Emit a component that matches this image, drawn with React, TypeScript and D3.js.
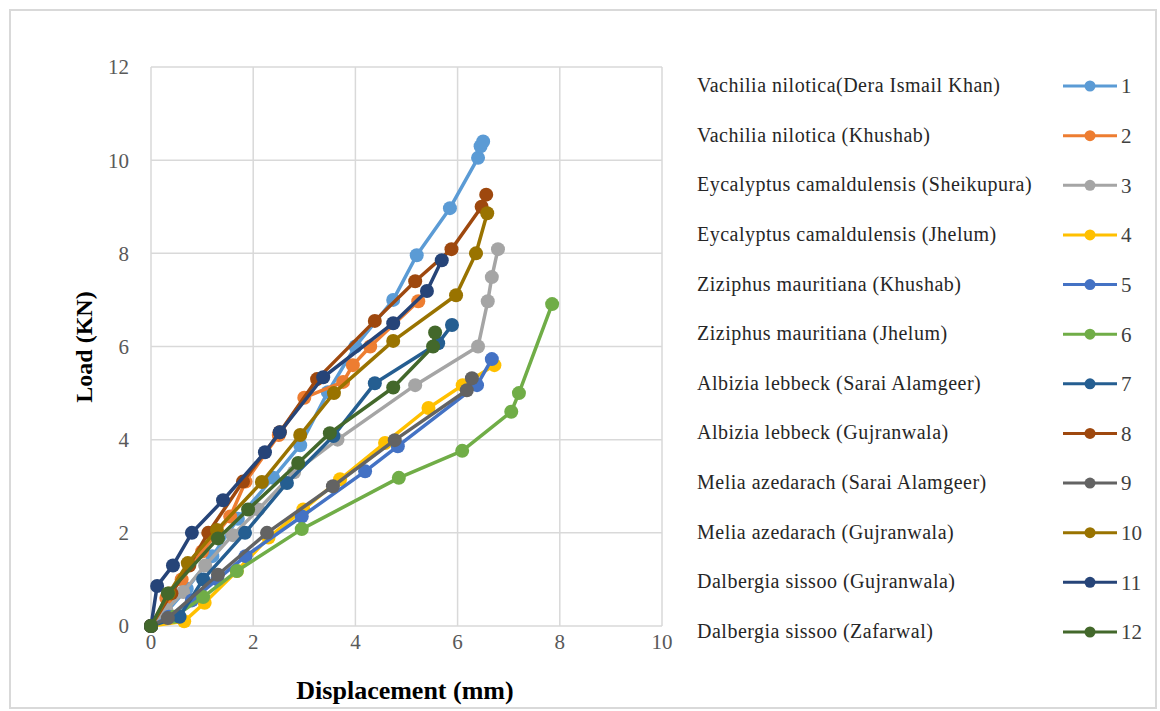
import React from 'react';
import * as d3 from 'd3';

// Load–displacement curves, one per wood sample (displacement mm, load KN)
const names = [
  'Vachilia nilotica(Dera Ismail Khan)',
  'Vachilia nilotica (Khushab)',
  'Eycalyptus camaldulensis (Sheikupura)',
  'Eycalyptus camaldulensis (Jhelum)',
  'Ziziphus mauritiana (Khushab)',
  'Ziziphus mauritiana (Jhelum)',
  'Albizia lebbeck (Sarai Alamgeer)',
  'Albizia lebbeck (Gujranwala)',
  'Melia azedarach (Sarai Alamgeer)',
  'Melia azedarach (Gujranwala)',
  'Dalbergia sissoo (Gujranwala)',
  'Dalbergia sissoo (Zafarwal)',
];
const colors = ['#5B9BD5', '#ED7D31', '#A5A5A5', '#FFC000', '#4472C4', '#70AD47', '#255E91', '#9E480E', '#636363', '#997300', '#264478', '#43682B'];

const s1 = [[0, 0], [0.3, 0.3], [0.7, 0.8], [1.2, 1.5], [1.7, 2.3], [2.39, 3.18], [2.92, 3.88], [3.46, 5.02], [4.0, 6.0], [4.74, 7.0], [5.2, 7.96], [5.85, 8.97], [6.4, 10.05], [6.45, 10.3], [6.5, 10.4]];
const s2 = [[0, 0], [0.3, 0.6], [0.6, 1.0], [1.0, 1.6], [1.55, 2.35], [1.85, 3.1], [2.5, 4.1], [3.0, 4.9], [3.76, 5.24], [3.95, 5.6], [4.29, 6.0], [5.23, 6.97]];
const s3 = [[0, 0], [0.3, 0.35], [0.63, 0.73], [1.06, 1.3], [1.6, 1.95], [2.1, 2.5], [2.8, 3.3], [3.65, 4.0], [5.17, 5.17], [6.4, 6.0], [6.59, 6.97], [6.67, 7.49], [6.79, 8.09]];
const s4 = [[0, 0], [0.65, 0.1], [1.05, 0.5], [1.68, 1.18], [2.3, 1.9], [2.98, 2.5], [3.7, 3.15], [4.58, 3.93], [5.43, 4.68], [6.1, 5.17], [6.72, 5.6]];
const s5 = [[0, 0], [0.35, 0.2], [0.8, 0.55], [1.3, 1.0], [1.85, 1.5], [2.95, 2.35], [4.19, 3.32], [4.83, 3.86], [6.38, 5.17], [6.67, 5.73]];
const s6 = [[0, 0], [0.45, 0.2], [1.02, 0.62], [1.68, 1.18], [2.95, 2.08], [4.85, 3.18], [6.09, 3.76], [7.05, 4.6], [7.2, 5.0], [7.85, 6.91]];
const s7 = [[0, 0], [0.56, 0.2], [1.02, 1.0], [1.84, 2.0], [2.66, 3.07], [3.57, 4.08], [4.38, 5.21], [5.62, 6.07], [5.89, 6.46]];
const s8 = [[0, 0], [0.4, 0.7], [0.75, 1.3], [1.12, 2.0], [1.8, 3.1], [2.52, 4.16], [3.25, 5.3], [4.38, 6.55], [5.17, 7.4], [5.88, 8.09], [6.47, 9.0], [6.56, 9.26]];
const s9 = [[0, 0], [0.33, 0.17], [1.31, 1.1], [2.27, 2.0], [3.56, 3.0], [4.77, 3.99], [6.18, 5.06], [6.28, 5.32]];
const s10 = [[0, 0], [0.35, 0.7], [0.72, 1.35], [1.29, 2.06], [2.17, 3.09], [2.92, 4.1], [3.58, 5.0], [4.74, 6.12], [5.97, 7.1], [6.36, 8.0], [6.58, 8.86]];
const s11 = [[0, 0], [0.12, 0.86], [0.43, 1.3], [0.8, 2.0], [1.41, 2.7], [2.23, 3.73], [2.52, 4.16], [3.37, 5.34], [4.74, 6.5], [5.4, 7.19], [5.69, 7.85]];
const s12 = [[0, 0], [0.33, 0.7], [1.31, 1.88], [1.9, 2.5], [2.88, 3.5], [3.5, 4.14], [4.74, 5.12], [5.52, 6.0], [5.56, 6.3]];
const series = [s1, s2, s3, s4, s5, s6, s7, s8, s9, s10, s11, s12];

const xTicks = [0, 2, 4, 6, 8, 10];
const yTicks = [0, 2, 4, 6, 8, 10, 12];

const font = '"Liberation Serif", "Times New Roman", serif';

export default function App() {
  const W = 1160, H = 711;
  const x = d3.scaleLinear().domain([0, 10]).range([151, 662]);
  const y = d3.scaleLinear().domain([0, 12]).range([626, 67]);
  const line = d3.line<number[]>().x(d => x(d[0])).y(d => y(d[1]));

  const legendY = d3.scaleLinear().domain([0, 11]).range([86, 632]);

  return (
    <svg width={W} height={H} style={{ position: 'absolute', left: 0, top: 0, background: '#fff' }}>
      <rect x={10} y={10} width={1146} height={698} fill="#fff" stroke="#d9d9d9" strokeWidth={2} />
      {/* grid */}
      {yTicks.map(t => (
        <line key={'gy' + t} x1={x(0)} x2={x(10)} y1={y(t)} y2={y(t)} stroke="#d9d9d9" strokeWidth={1.5} />
      ))}
      {xTicks.map(t => (
        <line key={'gx' + t} x1={x(t)} x2={x(t)} y1={y(0)} y2={y(12)} stroke="#d9d9d9" strokeWidth={1.5} />
      ))}
      {/* tick labels */}
      {yTicks.map(t => (
        <text key={'ly' + t} x={129} y={y(t)} dy="0.35em" textAnchor="end" fontFamily={font} fontSize={21} fill="#595959">{t}</text>
      ))}
      {xTicks.map(t => (
        <text key={'lx' + t} x={x(t)} y={649} textAnchor="middle" fontFamily={font} fontSize={21} fill="#595959">{t}</text>
      ))}
      {/* axis titles */}
      <text x={405} y={699} textAnchor="middle" fontFamily={font} fontSize={26} fontWeight="bold" fill="#000">Displacement (mm)</text>
      <text transform={`translate(92,${347}) rotate(-90)`} textAnchor="middle" fontFamily={font} fontSize={24} fontWeight="bold" fill="#000">Load (KN)</text>
      {/* series */}
      {series.map((s, i) => (
        <g key={'s' + i}>
          <path d={line(s) || ''} fill="none" stroke={colors[i]} strokeWidth={3.5} strokeLinejoin="round" />
          {s.map((p, j) => (
            <circle key={j} cx={x(p[0])} cy={y(p[1])} r={7} fill={colors[i]} />
          ))}
        </g>
      ))}
      {/* legend */}
      {names.map((n, i) => (
        <g key={'lg' + i}>
          <text x={697} y={legendY(i)} dy="0.3em" fontFamily={font} fontSize={20} letterSpacing={0.5} fill="#262626">{n}</text>
          <line x1={1063} x2={1117} y1={legendY(i)} y2={legendY(i)} stroke={colors[i]} strokeWidth={3} />
          <circle cx={1090} cy={legendY(i)} r={5.5} fill={colors[i]} />
          <text x={1121} y={legendY(i)} dy="0.35em" fontFamily={font} fontSize={21} fill="#404040">{i + 1}</text>
        </g>
      ))}
    </svg>
  );
}
